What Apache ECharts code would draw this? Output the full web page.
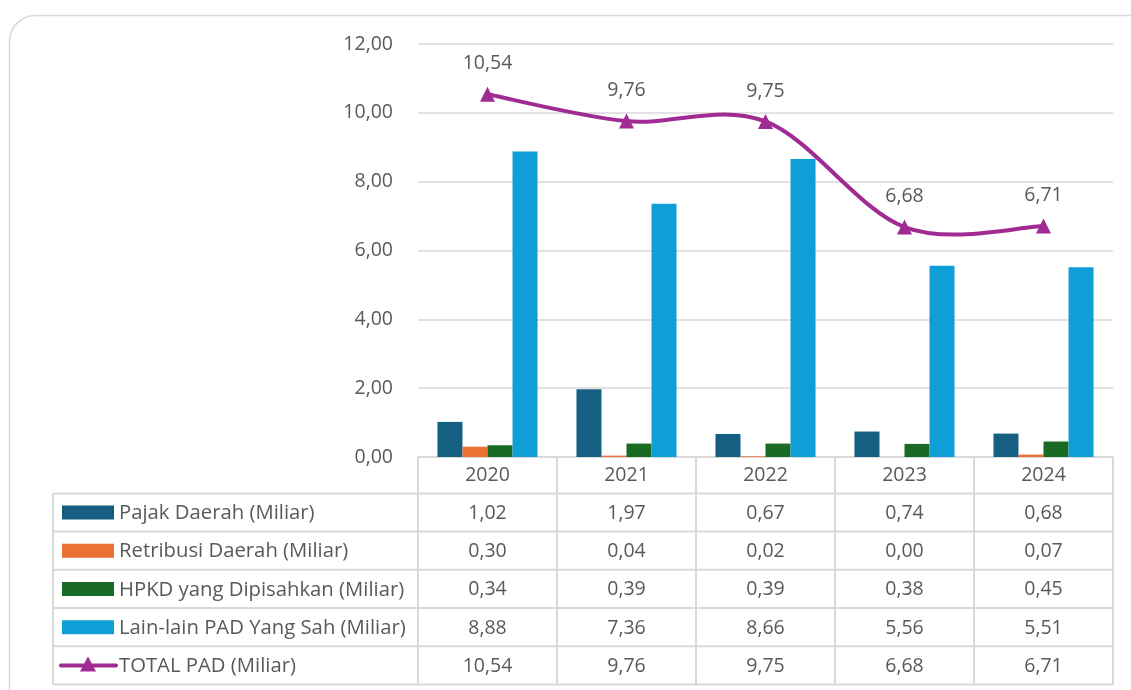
<!DOCTYPE html>
<html>
<head>
<meta charset="utf-8">
<script src="https://cdn.jsdelivr.net/npm/echarts@6/dist/echarts.min.js"></script>
<style>
  html, body { margin: 0; padding: 0; background: #fff; }
  #chart { width: 1131px; height: 690px; }
</style>
</head>
<body>
<div id="chart"></div>
<script>
// data
var years = ['2020', '2021', '2022', '2023', '2024'];
var pajakDaerah = [1.02, 1.97, 0.67, 0.74, 0.68];
var retribusiDaerah = [0.30, 0.04, 0.02, 0.00, 0.07];
var hpkd = [0.34, 0.39, 0.39, 0.38, 0.45];
var lainLain = [8.88, 7.36, 8.66, 5.56, 5.51];
var totalPad = [10.54, 9.76, 9.75, 6.68, 6.71];

var seriesNames = [
  'Pajak Daerah (Miliar)',
  'Retribusi Daerah (Miliar)',
  'HPKD yang Dipisahkan (Miliar)',
  'Lain-lain PAD Yang Sah (Miliar)',
  'TOTAL PAD (Miliar)'
];
var seriesData = [pajakDaerah, retribusiDaerah, hpkd, lainLain, totalPad];
var colors = ['#156082', '#E97132', '#196B24', '#0F9ED5', '#A02B93'];

var textColor = '#595959';
var lineColor = '#d9d9d9';
var fontFamily = '"Open Sans", sans-serif';
var fontSize = 19.5;
var nameFontSize = 20.3;

function fmt(v) {
  return v.toFixed(2).replace('.', ',');
}

// layout of the plot + data table
var plotLeft = 418, plotRight = 1113, plotTop = 44, plotBottom = 457;
var tableLeft = 53;
var rowLines = [457, 493.5, 531.5, 569.8, 608, 646.3, 684.5];
var colW = (plotRight - plotLeft) / years.length;

function buildTable() {
  var els = [];
  // card outline
  els.push({
    type: 'rect', z: -10,
    shape: { x: 9.5, y: 15.5, width: 1150, height: 700, r: 26 },
    style: { fill: 'none', stroke: lineColor, lineWidth: 1.5 }
  });
  // horizontal lines
  rowLines.forEach(function (y, i) {
    els.push({
      type: 'line',
      shape: { x1: i === 0 ? plotLeft : tableLeft, y1: y, x2: plotRight, y2: y },
      style: { stroke: lineColor, lineWidth: 2 }
    });
  });
  // vertical lines
  els.push({
    type: 'line',
    shape: { x1: tableLeft, y1: rowLines[1], x2: tableLeft, y2: rowLines[6] },
    style: { stroke: lineColor, lineWidth: 2 }
  });
  for (var c = 0; c <= years.length; c++) {
    var x = plotLeft + c * colW;
    els.push({
      type: 'line',
      shape: { x1: x, y1: rowLines[0], x2: x, y2: rowLines[6] },
      style: { stroke: lineColor, lineWidth: 2 }
    });
  }
  // rows: legend key, name and values
  seriesNames.forEach(function (name, r) {
    var yc = (rowLines[r + 1] + rowLines[r + 2]) / 2;
    if (r < 4) {
      els.push({
        type: 'rect',
        shape: { x: 62, y: yc - 7, width: 52, height: 14 },
        style: { fill: colors[r] }
      });
    } else {
      els.push({
        type: 'line',
        shape: { x1: 61, y1: yc, x2: 116, y2: yc },
        style: { stroke: colors[r], lineWidth: 4, lineCap: 'round' }
      });
      els.push({
        type: 'polygon',
        shape: { points: [[88, yc - 9], [80, yc + 6], [96, yc + 6]] },
        style: { fill: colors[r] }
      });
    }
    els.push({
      type: 'text',
      style: {
        text: name, x: 119, y: yc + 1, verticalAlign: 'middle', align: 'left',
        fill: textColor, font: nameFontSize + 'px ' + fontFamily
      }
    });
    seriesData[r].forEach(function (v, c) {
      els.push({
        type: 'text',
        style: {
          text: fmt(v), x: plotLeft + (c + 0.5) * colW, y: yc + 1,
          align: 'center', verticalAlign: 'middle',
          fill: textColor, font: fontSize + 'px ' + fontFamily
        }
      });
    });
  });
  return els;
}

// Excel-like smoothed line (cardinal spline, may overshoot)
function renderSmoothLine(params, api) {
  var pts = totalPad.map(function (v, i) { return api.coord([i, v]); });
  var n = pts.length;
  var children = [];
  for (var i = 0; i < n - 1; i++) {
    var p0 = pts[Math.max(i - 1, 0)];
    var p1 = pts[i];
    var p2 = pts[i + 1];
    var p3 = pts[Math.min(i + 2, n - 1)];
    children.push({
      type: 'bezierCurve',
      shape: {
        x1: p1[0], y1: p1[1],
        cpx1: p1[0] + (p2[0] - p0[0]) / 6, cpy1: p1[1] + (p2[1] - p0[1]) / 6,
        cpx2: p2[0] - (p3[0] - p1[0]) / 6, cpy2: p2[1] - (p3[1] - p1[1]) / 6,
        x2: p2[0], y2: p2[1]
      },
      style: { stroke: colors[4], lineWidth: 4, fill: 'none', lineCap: 'round' }
    });
  }
  return { type: 'group', children: children };
}

var chart = echarts.init(document.getElementById('chart'));

var series = [];
for (var i = 0; i < 4; i++) {
  series.push({
    name: seriesNames[i],
    type: 'bar',
    data: seriesData[i],
    itemStyle: { color: colors[i] },
    barGap: 0,
    barCategoryGap: '28%'
  });
}
series.push({
  type: 'custom',
  data: [0],
  renderItem: renderSmoothLine,
  silent: true,
  z: 4
});
series.push({
  name: seriesNames[4],
  type: 'line',
  data: totalPad,
  symbol: 'triangle',
  symbolSize: 15,
  lineStyle: { opacity: 0 },
  itemStyle: { color: colors[4] },
  label: {
    show: true, position: 'top', distance: 13,
    color: textColor, fontSize: fontSize, fontFamily: fontFamily,
    formatter: function (p) { return fmt(p.value); }
  },
  z: 5
});

chart.setOption({
  animation: false,
  backgroundColor: '#fff',
  textStyle: { fontFamily: fontFamily },
  grid: {
    left: plotLeft, right: 1131 - plotRight, top: plotTop, bottom: 690 - plotBottom,
    containLabel: false
  },
  xAxis: {
    type: 'category',
    data: years,
    axisLine: { show: false },
    axisTick: { show: false },
    axisLabel: { color: textColor, fontSize: fontSize, margin: 8, fontFamily: fontFamily }
  },
  yAxis: {
    type: 'value',
    min: 0, max: 12, interval: 2,
    axisLine: { show: false },
    axisTick: { show: false },
    splitLine: { lineStyle: { color: lineColor, width: 1.5 } },
    axisLabel: {
      color: textColor, fontSize: fontSize, margin: 25, fontFamily: fontFamily,
      formatter: function (v) { return fmt(v); }
    }
  },
  series: series,
  graphic: buildTable()
});
</script>
</body>
</html>
